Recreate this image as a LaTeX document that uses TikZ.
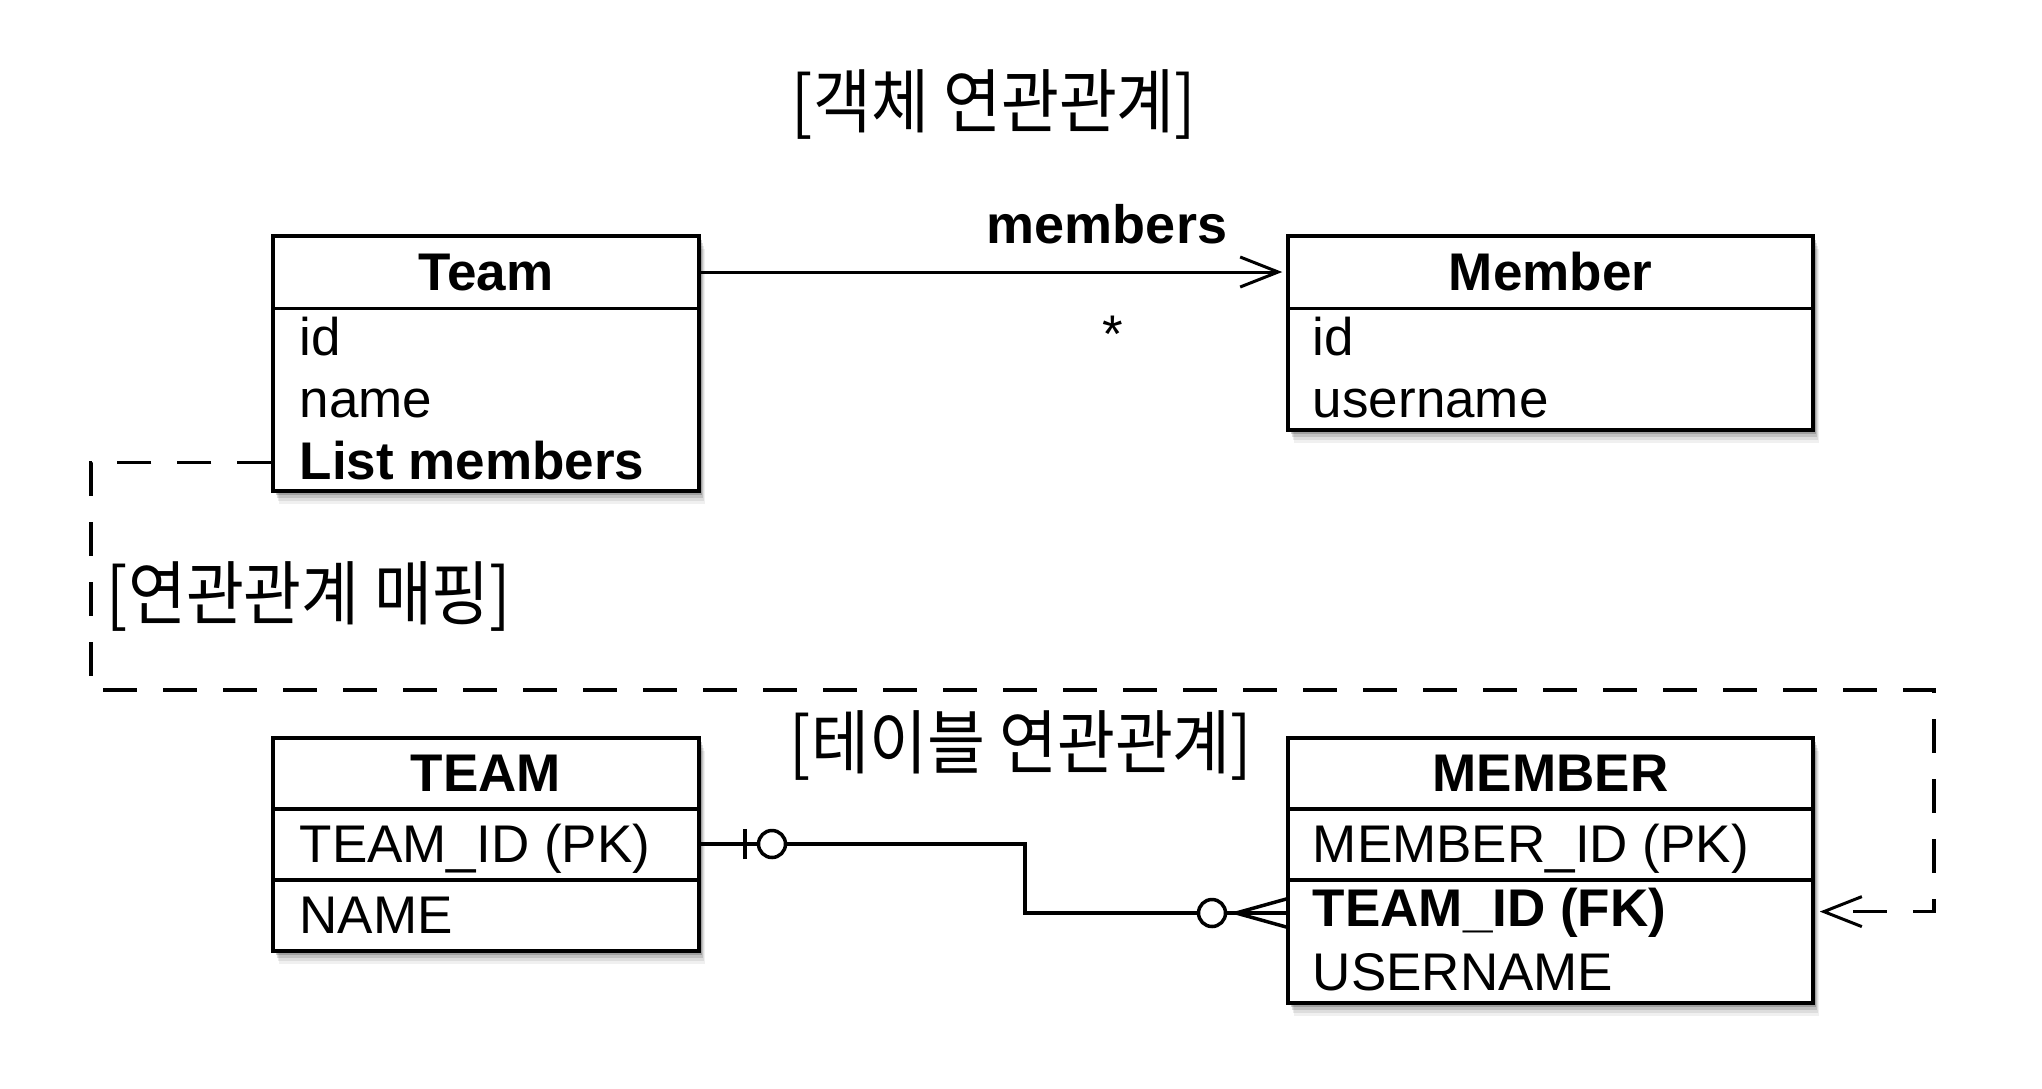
\documentclass[tikz,border=0pt]{standalone}
\usepackage{fontspec}
\setmainfont{Liberation Sans}
\newfontfamily\kr[FakeStretch=0.9]{Noto Sans CJK KR}
\usetikzlibrary{arrows.meta,shadows}
\begin{document}
\begin{tikzpicture}[x=1pt,y=-1pt,
  box/.style={draw=black, line width=3.5pt, fill=white, inner sep=0pt,
    drop shadow={shadow xshift=6pt, shadow yshift=-13pt, opacity=0.06, fill=black},
    drop shadow={shadow xshift=5pt, shadow yshift=-10pt, opacity=0.08, fill=black},
    drop shadow={shadow xshift=4pt, shadow yshift=-7pt, opacity=0.12, fill=black},
    drop shadow={shadow xshift=2.5pt, shadow yshift=-4pt, opacity=0.18, fill=black}},
  divider/.style={line width=3.5pt},
  txt/.style={font=\fontsize{53}{60}\selectfont, inner sep=0pt, anchor=base west},
  btxt/.style={font=\fontsize{53}{60}\selectfont\bfseries, inner sep=0pt, anchor=base west},
  hdr/.style={font=\fontsize{53}{60}\selectfont\bfseries, inner sep=0pt, anchor=base},
  krlab/.style={inner sep=0pt, anchor=center, font=\kr\fontsize{70}{80}\selectfont},
  conn/.style={line width=3pt},
  erline/.style={line width=3.5pt},
  dashline/.style={line width=3.5pt, dash pattern=on 34pt off 26pt},
  barb/.style={-{Straight Barb[length=38pt,width=30pt,line width=3pt]}}
]
\useasboundingbox (0,0) rectangle (2042,1088);

% ---------- titles ----------
\node[krlab] (title1) at (994,104) {[객체 연관관계]};
\node[krlab] (title2) at (309,596) {[연관관계 매핑]};
\node[krlab] (title3) at (1021,745) {[테이블 연관관계]};

% ---------- Team (object) ----------
\node[box, minimum width=426pt, minimum height=255pt] (team) at (486,363.5) {};
\draw[divider] (273,308.6) -- (699,308.6);
\node[hdr] (teamh) at (486,290) {Team};
\node[txt] (teamid) at (299.5,355.4) {id};
\node[txt] (teamname) at (299.5,417) {name};
\node[btxt] (teamlist) at (299.5,479) {List members};

% ---------- Member (object) ----------
\node[box, minimum width=525pt, minimum height=194pt] (member) at (1550.5,333) {};
\draw[divider] (1288,308.6) -- (1813,308.6);
\node[hdr] (memberh) at (1550.5,290) {Member};
\node[txt] (memberid) at (1312.7,355.4) {id};
\node[txt] (memberuser) at (1312.7,417) {username};

% ---------- TEAM (table) ----------
\node[box, minimum width=426pt, minimum height=213pt] (TEAM) at (486,844.5) {};
\draw[divider] (273,809) -- (699,809);
\draw[divider] (273,880) -- (699,880);
\node[hdr] (TEAMh) at (486,791.7) {TEAM};
\node[txt] (TEAMpk) at (299.5,862) {TEAM\_ID (PK)};
\node[txt] (TEAMname) at (299.5,933.6) {NAME};

% ---------- MEMBER (table) ----------
\node[box, minimum width=525pt, minimum height=265pt] (MEMBER) at (1550.5,870.5) {};
\draw[divider] (1288,809) -- (1813,809);
\draw[divider] (1288,880) -- (1813,880);
\node[hdr] (MEMBERh) at (1550.5,791.7) {MEMBER};
\node[txt] (MEMBERpk) at (1312.7,862) {MEMBER\_ID (PK)};
\node[btxt] (MEMBERfk) at (1312.7,926.5) {TEAM\_ID (FK)};
\node[txt] (MEMBERuser) at (1312.7,990) {USERNAME};

% ---------- object association ----------
\coordinate (hy) at (0,272);
\draw[conn, barb, shorten >=4pt] (team.east |- hy) -- (member.west |- hy);
\node[font=\fontsize{54}{60}\selectfont\bfseries, inner sep=0pt] (memberslab) at (1107,224) {members};
\node[font=\fontsize{53}{60}\selectfont, inner sep=0pt] (mult) at (1113,334) {*};

% ---------- mapping (dashed) ----------
\coordinate (lmy) at (0,462.3);
\coordinate (d1) at (91,462.3);
\coordinate (d2) at (91,690);
\coordinate (d3) at (1934,690);
\coordinate (d4) at (1934,911.6);
\draw[dashline, barb, shorten >=5pt] (team.west |- lmy) -- (d1) -- (d2) -- (d3) -- (d4) -- (MEMBER.east |- d4);

% ---------- ER relation ----------
\coordinate (erA) at (1025,844);
\coordinate (erB) at (1025,913);
\coordinate (bar) at (745,844);
\coordinate (crow) at (1236,913);
\coordinate (cfu) at (0,899);
\coordinate (cfd) at (0,927);
\draw[erline] (TEAM.east |- erA) -- (erA) -- (erB) -- (MEMBER.west |- erB);
\draw[erline] ([yshift=-15pt]bar) -- ([yshift=15pt]bar);
\node[draw, erline, fill=white, circle, minimum size=27pt, inner sep=0pt] (c1) at (772,844) {};
\node[draw, erline, fill=white, circle, minimum size=27pt, inner sep=0pt] (c2) at (1212,913) {};
\draw[erline] (crow) -- (MEMBER.west |- cfu);
\draw[erline] (crow) -- (MEMBER.west |- cfd);
\end{tikzpicture}
\end{document}
